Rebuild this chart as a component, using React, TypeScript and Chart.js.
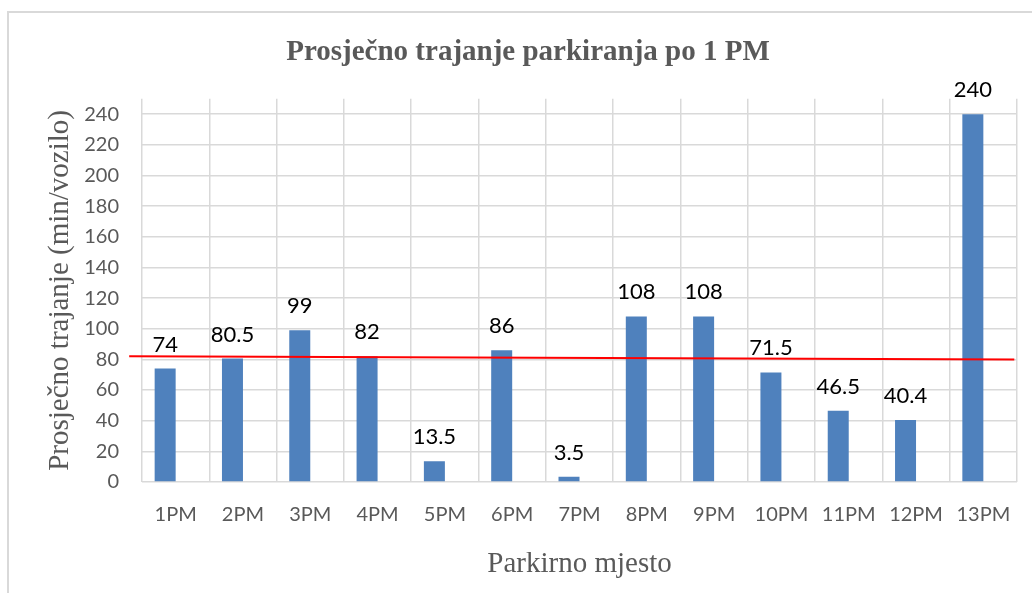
import React, { useEffect, useRef } from "react";
import { Chart, registerables } from "chart.js";

Chart.register(...registerables);

const categories = ["1PM", "2PM", "3PM", "4PM", "5PM", "6PM", "7PM", "8PM", "9PM", "10PM", "11PM", "12PM", "13PM"];
const durations = [74, 80.5, 99, 82, 13.5, 86, 3.5, 108, 108, 71.5, 46.5, 40.4, 240];
const yTickValues = [0, 20, 40, 60, 80, 100, 120, 140, 160, 180, 200, 220, 240];
const redLineX = [-0.69, 12.46];
const redLineY = [82, 80];

const chartTitle = "Prosječno trajanje parkiranja po 1 PM";
const xTitle = "Parkirno mjesto";
const yTitle = "Prosječno trajanje (min/vozilo)";

const GRAY = "#595959";
const GRID = "#d9d9d9";

const labelsPlugin = {
  id: "barLabels",
  afterDatasetsDraw(chart: any) {
    const ctx = chart.ctx;
    const meta = chart.getDatasetMeta(0);
    ctx.save();
    ctx.font = "22px Lato";
    ctx.fillStyle = "#000000";
    ctx.textAlign = "center";
    ctx.textBaseline = "alphabetic";
    meta.data.forEach((bar: any, i: number) => {
      ctx.fillText(String(durations[i]), bar.x, bar.y - 17);
    });
    ctx.restore();
  },
};

const redLinePlugin = {
  id: "redLine",
  afterDatasetsDraw(chart: any) {
    const ctx = chart.ctx;
    const xs = chart.scales.x;
    const ys = chart.scales.y;
    ctx.save();
    ctx.strokeStyle = "#ff0000";
    ctx.lineWidth = 2;
    ctx.beginPath();
    ctx.moveTo(xs.getPixelForValue(redLineX[0]), ys.getPixelForValue(redLineY[0]));
    ctx.lineTo(xs.getPixelForValue(redLineX[1]), ys.getPixelForValue(redLineY[1]));
    ctx.stroke();
    ctx.restore();
  },
};

const titlePlugin = {
  id: "shiftedTitle",
  afterDraw(chart: any) {
    const ctx = chart.ctx;
    const tb = chart.titleBlock;
    const y = tb ? tb.top + 33 + 20 : 53;
    ctx.save();
    ctx.font = "bold 29px 'Liberation Serif'";
    ctx.fillStyle = GRAY;
    ctx.textAlign = "center";
    ctx.textBaseline = "middle";
    ctx.fillText(chartTitle, chart.width / 2 + 12, y);
    ctx.restore();
  },
};

export default function App() {
  const ref = useRef<HTMLCanvasElement>(null);

  useEffect(() => {
    document.body.style.margin = "0";
    const chart = new Chart(ref.current as HTMLCanvasElement, {
      type: "bar",
      data: {
        labels: categories,
        datasets: [
          {
            label: "Trajanje",
            data: durations,
            backgroundColor: "#4f81bd",
            borderWidth: 0,
            categoryPercentage: 0.624,
            barPercentage: 1,
          },
          {
            label: "empty",
            data: [],
            backgroundColor: "#4f81bd",
            categoryPercentage: 0.624,
            barPercentage: 1,
          },
        ],
      },
      options: {
        responsive: false,
        animation: false,
        layout: { padding: { left: 0, right: 15, top: 0, bottom: 4 } },
        plugins: {
          legend: { display: false },
          tooltip: { enabled: false },
          title: {
            display: true,
            text: chartTitle,
            color: "rgba(0,0,0,0)",
            font: { family: "Liberation Serif", size: 29, weight: "bold" },
            padding: { top: 33, bottom: 31 },
          },
        },
        scales: {
          x: {
            offset: true,
            grid: { offset: true, color: GRID, lineWidth: 1.5, drawTicks: false },
            border: { display: false },
            afterFit(axis: any) {
              axis.height = 107;
            },
            ticks: {
              color: GRAY,
              font: { family: "Lato", size: 20 },
              padding: 21,
              maxRotation: 0,
              autoSkip: false,
            },
            title: {
              display: true,
              text: xTitle,
              color: GRAY,
              font: { family: "Liberation Serif", size: 29 },
              padding: { top: 0, bottom: 7 },
            },
          },
          y: {
            min: 0,
            max: 250,
            grid: { color: GRID, lineWidth: 1.5, drawTicks: false },
            border: { display: false },
            afterBuildTicks(axis: any) {
              axis.ticks = yTickValues.map((v) => ({ value: v }));
            },
            afterFit(axis: any) {
              axis.width = 142;
            },
            ticks: {
              color: GRAY,
              font: { family: "Lato", size: 20 },
              padding: 23,
            },
            title: {
              display: true,
              text: yTitle,
              color: GRAY,
              font: { family: "Liberation Serif", size: 29 },
              padding: { top: 43, bottom: 0 },
            },
          },
        },
      },
      plugins: [labelsPlugin, redLinePlugin, titlePlugin],
    });
    return () => chart.destroy();
  }, []);

  return (
    <div style={{ position: "relative", width: 1032, height: 593, overflow: "hidden", background: "#fff" }}>
      <div
        style={{
          position: "absolute",
          left: 7,
          top: 11,
          width: 1100,
          height: 700,
          borderTop: "2px solid #d9d9d9",
          borderLeft: "2px solid #d9d9d9",
        }}
      />
      <canvas ref={ref} width={1032} height={593} style={{ position: "absolute", left: 0, top: 0 }} />
    </div>
  );
}
